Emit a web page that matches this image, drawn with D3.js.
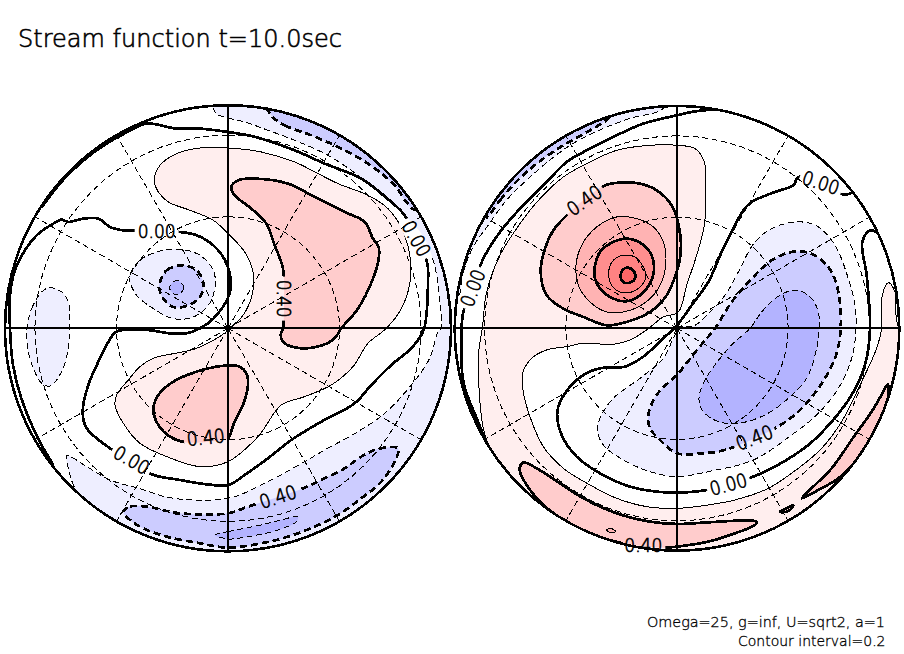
<!DOCTYPE html>
<html><head><meta charset="utf-8">
<style>html,body{margin:0;padding:0;background:#fff}svg{display:block}text{font-family:"DejaVu Sans",sans-serif;font-weight:200;fill:#000;stroke:#000;stroke-width:0.45px}</style>
<script src="https://d3js.org/d3.v7.min.js"></script></head><body>
<script>
// ---- Contour lines, in projected map units (disc radius = 669) ----
const titleText = "Stream function t=10.0sec";
const noteLines = ["Omega=25, g=inf, U=sqrt2, a=1","Contour interval=0.2"];
const meridians = d3.range(0,360,30);
const parallels = [30,60];

// left hemisphere
const leftBlue02Edge=[[-39,649],[0,631],[50,619],[120,594],[200,564],[300,519],[390,459],[450,409],[530,339],[590,269],[622,179],[636,79],[640,0],[630,-10],[605,-90],[550,-170],[470,-255],[390,-310],[290,-365],[230,-400],[100,-470],[0,-510],[-164,-510],[-269,-480],[-354,-455],[-424,-415],[-484,-382],[-479,-420],[-459,-480],[-424,-520],[-374,-560],[-200,-800],[800,-800],[800,800],[-39,800]];
const leftBlue02West=[[-603,0],[-589,59],[-559,109],[-534,122],[-499,109],[-479,79],[-476,0],[-479,-60],[-499,-130],[-534,-173],[-559,-165],[-584,-120],[-599,-70]];
const leftBlue02Vortex=[[-296,159],[-264,204],[-214,229],[-144,237],[-84,219],[-44,174],[-39,124],[-59,69],[-104,34],[-164,29],[-224,59],[-274,99],[-296,144]];
const leftBlue04Vortex=[[-204,139],[-184,174],[-139,189],[-94,174],[-74,134],[-84,94],[-124,67],[-164,64],[-194,89],[-207,124]];
const leftBlue06Vortex=[[-154,144],[-132,122],[-154,100],[-176,122]];
const leftBlue04North=[[130,639],[170,609],[250,579],[330,544],[420,494],[500,429],[535,379],[565,354],[750,500],[400,800],[100,720]];
const leftBlue04South=[[-314,-550],[-294,-535],[-244,-535],[-144,-555],[0,-555],[60,-535],[230,-478],[290,-450],[350,-420],[400,-385],[450,-362],[510,-360],[505,-390],[460,-460],[400,-510],[330,-560],[260,-595],[180,-625],[100,-645],[0,-658],[-84,-645],[-184,-625],[-254,-600],[-294,-575]];
const leftBlue06South=[[-39,-620],[0,-610],[50,-600],[100,-590],[160,-575],[210,-565],[205,-580],[150,-605],[60,-625],[0,-632]];
const leftPink02=[[0,541],[100,529],[200,499],[270,464],[330,434],[420,399],[480,359],[530,279],[548,154],[520,59],[475,0],[420,-45],[375,-115],[310,-170],[230,-205],[160,-230],[90,-325],[0,-400],[-84,-415],[-184,-385],[-264,-345],[-314,-285],[-339,-230],[-334,-200],[-299,-155],[-264,-115],[-224,-90],[-94,-60],[-4,-10],[10,4],[45,39],[72,99],[75,169],[50,229],[0,284],[-44,324],[-114,354],[-179,379],[-209,409],[-221,444],[-204,489],[-154,524],[-84,541]];
const leftPink04North=[[10,424],[30,444],[80,449],[180,434],[260,394],[350,349],[410,319],[435,269],[452,244],[452,209],[435,149],[390,59],[340,0],[320,-30],[280,-52],[220,-60],[170,-45],[158,-20],[165,0],[168,90],[165,179],[140,249],[115,314],[70,359],[20,399]];
const leftPink04South=[[0,-112],[35,-115],[55,-135],[60,-170],[45,-230],[20,-280],[12,-302],[0,-330],[-60,-340],[-129,-342],[-174,-325],[-209,-290],[-224,-245],[-209,-200],[-164,-160],[-94,-130],[-34,-115]];
const leftZero=[[-524,-410],[-570,-330],[-620,-210],[-645,-110],[-654,0],[-654,99],[-644,159],[-624,209],[-574,279],[-524,314],[-499,326],[-479,319],[-434,329],[-389,329],[-354,304],[-314,294],[-274,294],[-144,289],[-94,279],[-44,249],[-9,204],[8,144],[3,99],[-44,29],[-84,0],[-124,-15],[-174,-15],[-244,-5],[-334,-10],[-364,-50],[-384,-90],[-419,-170],[-436,-250],[-424,-300],[-354,-360],[-229,-438],[-144,-455],[-64,-468],[2,-470],[50,-440],[120,-390],[190,-335],[280,-280],[380,-225],[430,-170],[490,-110],[550,-60],[580,-20],[590,5],[600,139],[597,199],[530,339],[490,379],[400,449],[290,494],[200,534],[100,569],[60,579],[0,589],[-84,599],[-154,599],[-244,614],[-300,590],[-400,530],[-490,450],[-560,362]];

// right hemisphere
const rightPink02=[[0,549],[54,539],[82,499],[86,409],[82,309],[59,219],[29,129],[4,49],[-41,34],[-91,-5],[-141,-35],[-191,-48],[-281,-45],[-331,-55],[-391,-65],[-436,-90],[-463,-135],[-463,-180],[-441,-265],[-401,-355],[-341,-420],[-261,-470],[-181,-510],[-91,-535],[0,-540],[94,-530],[174,-515],[274,-480],[364,-420],[434,-360],[494,-280],[554,-160],[599,-60],[614,0],[616,99],[634,137],[654,109],[666,0],[800,-100],[700,-800],[-300,-800],[-500,-470],[-568,-345],[-583,-290],[-594,-180],[-596,-80],[-584,0],[-571,109],[-531,219],[-471,314],[-411,389],[-341,454],[-281,489],[-181,534],[-81,549]];
const rightBlue02North=[[-661,90],[-641,170],[-611,245],[-566,310],[-511,385],[-461,435],[-381,505],[-311,555],[-231,595],[-141,630],[-41,660],[-30,720],[-300,800],[-700,500],[-750,100]];
const rightBlue04North=[[-576,334],[-531,384],[-481,441],[-421,494],[-341,549],[-261,594],[-206,631],[-190,680],[-300,720],[-620,400]];
const rightBlue02=[[14,4],[54,9],[94,44],[144,99],[184,169],[234,259],[294,304],[374,319],[424,304],[474,249],[514,149],[534,69],[537,0],[524,-90],[484,-180],[424,-255],[344,-320],[229,-395],[94,-430],[0,-445],[-81,-430],[-161,-395],[-221,-350],[-238,-310],[-231,-270],[-191,-210],[-111,-150],[-41,-90],[-6,-20]];
const rightBlue04=[[114,0],[164,79],[224,149],[284,204],[344,229],[394,227],[434,204],[464,169],[484,109],[491,0],[474,-90],[424,-180],[364,-250],[294,-300],[144,-365],[74,-375],[0,-375],[-51,-335],[-81,-300],[-86,-260],[-61,-200],[-11,-150],[0,-140],[64,-60]];
const rightBlue06=[[219,0],[254,49],[294,89],[329,109],[364,114],[404,89],[424,49],[426,0],[419,-60],[389,-150],[334,-210],[264,-260],[184,-285],[124,-280],[79,-250],[66,-215],[79,-165],[114,-110],[164,-50]];
const rightPink04=[[-216,429],[-171,437],[-111,434],[-61,414],[-16,369],[10,279],[9,209],[-1,169],[-31,99],[-81,49],[-151,19],[-211,9],[-281,34],[-341,59],[-391,99],[-409,169],[-396,239],[-371,294],[-336,334],[-280,385]];
const rightPink06=[[-303,189],[-286,249],[-241,304],[-181,334],[-121,329],[-71,304],[-41,259],[-33,209],[-46,139],[-81,89],[-141,54],[-211,49],[-261,79],[-296,129]];
const rightPink08=[[-248,174],[-231,229],[-191,259],[-151,269],[-106,254],[-76,219],[-69,174],[-81,134],[-111,99],[-151,81],[-191,89],[-231,119],[-246,149]];
const rightPink10=[[-205,169],[-191,204],[-161,219],[-126,214],[-101,184],[-93,159],[-106,129],[-136,109],[-171,109],[-196,129]];
const rightPink12=[[-169,159],[-161,177],[-146,182],[-128,169],[-126,149],[-141,137],[-161,139]];
const rightPink04South=[[-471,-415],[-461,-402],[-421,-420],[-351,-465],[-281,-510],[-181,-555],[-81,-580],[0,-587],[94,-582],[194,-577],[239,-580],[234,-590],[174,-615],[94,-640],[0,-655],[-41,-658],[-161,-645],[-251,-620],[-331,-580],[-401,-530],[-451,-470],[-471,-430]];
const rightPink04East=[[374,-510],[414,-470],[464,-420],[534,-320],[584,-250],[619,-190],[632,-168],[634,-205],[614,-280],[569,-350],[539,-395],[484,-450],[424,-485]];
const rightPink04Speck=[[309,-550],[329,-540],[349,-531],[339,-545],[314,-552]];
const rightPink06Speck=[[-211,-605],[-199,-600],[-184,-610],[-196,-614]];
const rightZeroInner=[[604,284],[579,294],[556,259],[569,159],[579,0],[564,-110],[524,-200],[464,-280],[394,-350],[294,-415],[229,-445],[154,-470],[79,-487],[0,-493],[-61,-490],[-141,-475],[-231,-435],[-301,-385],[-346,-320],[-359,-250],[-336,-195],[-281,-140],[-231,-120],[-156,-115],[-101,-85],[-41,-30],[0,9],[44,69],[94,139],[134,229],[174,309],[199,354],[224,379],[294,409],[349,429],[364,454],[430,440],[489,404],[519,404],[529,414]];
const rightZeroOuter=[[134,657],[94,655],[44,649],[0,639],[-101,614],[-181,579],[-261,539],[-331,499],[-391,439],[-471,359],[-531,289],[-581,209],[-613,121],[-641,49],[-646,0],[-641,-160],[-601,-270],[-556,-370],[-501,-440]];

// level of each contour (paint order = list order)
const leftLevels  =[[-0.2,leftBlue02Edge],[-0.2,leftBlue02West],[-0.2,leftBlue02Vortex],[-0.4,leftBlue04Vortex],[-0.6,leftBlue06Vortex],[-0.4,leftBlue04North],[-0.4,leftBlue04South],[-0.6,leftBlue06South],[0.2,leftPink02],[0.4,leftPink04North],[0.4,leftPink04South]];
const leftOpen    =[[0,leftZero]];
const rightLevels =[[0.2,rightPink02],[-0.2,rightBlue02North],[-0.4,rightBlue04North],[-0.2,rightBlue02],[-0.4,rightBlue04],[-0.6,rightBlue06],[0.4,rightPink04],[0.6,rightPink06],[0.8,rightPink08],[1.0,rightPink10],[1.2,rightPink12],[0.4,rightPink04South],[0.4,rightPink04East],[0.4,rightPink04Speck],[0.6,rightPink06Speck]];
const rightOpen   =[[0,rightZeroInner],[0,rightZeroOuter]];

// contour labels: text, u, v, angle
const leftLabels =[["0.00",-214,291,0],["0.00",565,269,60],["0.40",168,89,90],["0.00",-289,-395,30],["0.40",-67,-327,-6],["0.40",150,-505,-18]];
const rightLabels=[["0.40",-278,384,-35],["0.00",-613,121,-70],["0.00",432,437,18],["0.40",232,-328,-21],["0.00",154,-468,-15],["0.40",-101,-650,0]];

const levelDomain=[-0.6,-0.4,-0.2,0.2,0.4,0.6,0.8,1.0,1.2];
const levelColors=["#b3b3ff","#ccccff","#eeeeff","#ffeeee","#ffcccc","#ffb3b3","#ff8e8e","#ff8282","#ff6666"];
const fillOf=d3.scaleOrdinal(levelDomain,levelColors);
const isThick=l=>Math.round(Math.abs(l)*10)%4===0;

const svg=d3.select("body").append("svg").attr("width",904).attr("height",654).attr("viewBox","0 0 904 654");
svg.append("rect").attr("width",904).attr("height",654).attr("fill","#fff");

function drawPanel(id,cx,cy,R,levels,open,labels){
  const x=d3.scaleLinear([-669,669],[cx-223,cx+223]);
  const y=d3.scaleLinear([-669,669],[cy+223,cy-223]);
  const closedLine=d3.line().x(d=>x(d[0])).y(d=>y(d[1])).curve(d3.curveCatmullRomClosed.alpha(0.5));
  const openLine=d3.line().x(d=>x(d[0])).y(d=>y(d[1])).curve(d3.curveCatmullRom.alpha(0.5));
  const defs=svg.append("defs");
  defs.append("clipPath").attr("id","clip"+id).append("circle").attr("cx",cx).attr("cy",cy).attr("r",R);
  const mask=defs.append("mask").attr("id","mask"+id).attr("maskUnits","userSpaceOnUse").attr("x",0).attr("y",0).attr("width",904).attr("height",654);
  mask.append("rect").attr("width",904).attr("height",654).attr("fill","#fff");
  mask.selectAll("rect.g").data(labels).join("rect").attr("class","g").attr("x",-22).attr("y",-9).attr("width",44).attr("height",18).attr("fill","#000")
    .attr("transform",d=>`translate(${x(d[1])},${y(d[2])}) rotate(${d[3]})`);

  const g=svg.append("g").attr("clip-path",`url(#clip${id})`);
  g.append("g").selectAll("path").data(levels).join("path").attr("d",d=>closedLine(d[1])).attr("fill",d=>fillOf(d[0]));

  const proj=d3.geoOrthographic().rotate([0,-90]).scale(R).translate([cx,cy]).precision(0.3);
  const geo=d3.geoPath(proj);
  const grat=g.append("g").attr("fill","none").attr("stroke","#000").attr("stroke-width",1).attr("stroke-dasharray","6,3.5").attr("shape-rendering","crispEdges");
  grat.selectAll("path.m").data(meridians).join("path").attr("class","m")
    .attr("d",lon=>geo({type:"LineString",coordinates:[[lon,89.99],[lon,60],[lon,30],[lon,0.01]]}));
  grat.selectAll("path.p").data(parallels).join("path").attr("class","p")
    .attr("d",lat=>geo({type:"LineString",coordinates:d3.range(-180,181,5).map(l=>[l,lat])}));

  const lines=g.append("g").attr("mask",`url(#mask${id})`).attr("fill","none").attr("stroke","#000").attr("stroke-linejoin","round").attr("shape-rendering","crispEdges");
  const style=s=>s.attr("stroke-width",d=>isThick(d[0])?2.7:1).attr("stroke-dasharray",d=>d[0]<0?(isThick(d[0])?"7,4":"6,3.5"):null);
  lines.selectAll("path.c").data(levels).join("path").attr("class","c").attr("d",d=>closedLine(d[1])).call(style);
  lines.selectAll("path.o").data(open).join("path").attr("class","o").attr("d",d=>openLine(d[1])).call(style);

  svg.append("line").attr("x1",x(-669)).attr("x2",x(669)).attr("y1",y(0)).attr("y2",y(0)).attr("stroke","#000").attr("stroke-width",2).attr("shape-rendering","crispEdges");
  svg.append("line").attr("x1",x(0)).attr("x2",x(0)).attr("y1",y(669)).attr("y2",y(-669)).attr("stroke","#000").attr("stroke-width",2).attr("shape-rendering","crispEdges");
  svg.append("circle").attr("cx",cx).attr("cy",cy).attr("r",R).attr("fill","none").attr("stroke","#000").attr("stroke-width",2.6).attr("shape-rendering","crispEdges");

  svg.append("g").selectAll("text").data(labels).join("text")
    .attr("transform",d=>`translate(${x(d[1])},${y(d[2])}) rotate(${d[3]})`)
    .attr("text-anchor","middle").attr("dy","0.36em").attr("font-size",19).attr("textLength",38).attr("lengthAdjust","spacingAndGlyphs").style("stroke-width","0.7px").text(d=>d[0]);
}
drawPanel("L",228,328.3,223,leftLevels,leftOpen,leftLabels);
drawPanel("R",677,328.3,222.3,rightLevels,rightOpen,rightLabels);

svg.append("text").attr("x",18).attr("y",47).attr("font-size",25).attr("textLength",324).attr("lengthAdjust","spacingAndGlyphs").style("stroke-width","0.6px").text(titleText);
svg.selectAll("text.n").data(noteLines).join("text").attr("class","n")
  .attr("x",(d,i)=>i?738:647).attr("y",(d,i)=>i?645.5:627).attr("font-size",13.5)
  .attr("textLength",(d,i)=>i?147.5:238).attr("lengthAdjust","spacingAndGlyphs").style("stroke-width","0.3px").text(d=>d);
</script></body></html>
